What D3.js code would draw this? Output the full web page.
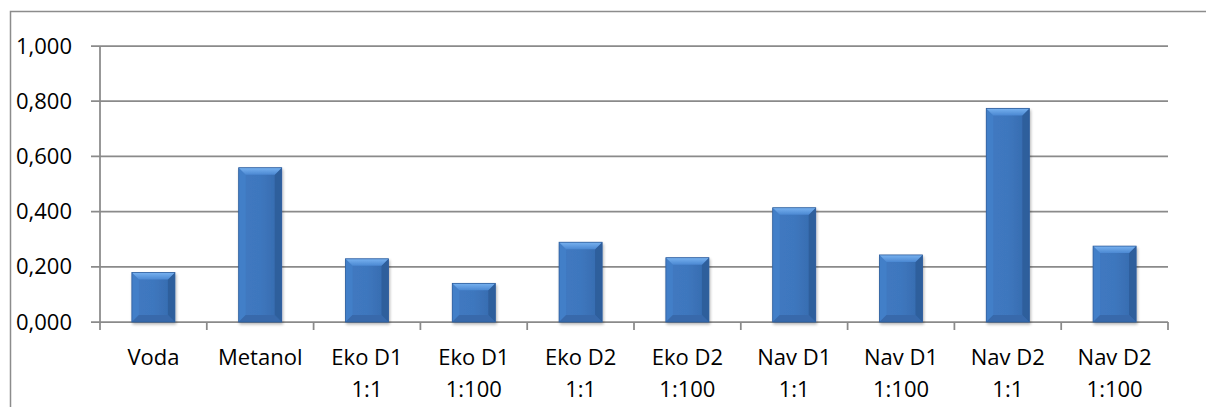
<!DOCTYPE html>
<html>
<head>
<meta charset="utf-8">
<script src="https://cdn.jsdelivr.net/npm/d3@7"></script>
<style>
  body { margin: 0; background: #fff; }
  svg { display: block; }
  text { font-family: "Open Sans", "Noto Sans", sans-serif; font-weight: 400; fill: #000; }
</style>
</head>
<body>
<div id="chart"></div>
<script>
// Data
var categories = ["Voda", "Metanol", "Eko D1\n1:1", "Eko D1\n1:100", "Eko D2\n1:1",
    "Eko D2\n1:100", "Nav D1\n1:1", "Nav D1\n1:100", "Nav D2\n1:1", "Nav D2\n1:100"];
var values = [0.179, 0.559, 0.229, 0.140, 0.289, 0.233, 0.414, 0.243, 0.774, 0.275];
var yTicks = [0, 0.2, 0.4, 0.6, 0.8, 1.0];

function createChart() {
    var width = 1206, height = 407;
    var margin = { top: 46, right: 38, bottom: 85, left: 100 };
    var innerW = width - margin.left - margin.right;
    var innerH = height - margin.top - margin.bottom;

    var svg = d3.select("#chart").append("svg")
        .attr("width", width)
        .attr("height", height);

    var defs = svg.append("defs");

    // face gradient of bars (slightly darker on the right)
    var faceGrad = defs.append("linearGradient").attr("id", "face")
        .attr("x1", "0").attr("x2", "1").attr("y1", "0").attr("y2", "0");
    faceGrad.append("stop").attr("offset", "0%").attr("stop-color", "#4079c1");
    faceGrad.append("stop").attr("offset", "50%").attr("stop-color", "#3e77be");
    faceGrad.append("stop").attr("offset", "100%").attr("stop-color", "#3569ac");

    var topGrad = defs.append("linearGradient").attr("id", "bevelTop")
        .attr("x1", "0").attr("x2", "0").attr("y1", "0").attr("y2", "1");
    topGrad.append("stop").attr("offset", "0%").attr("stop-color", "#78b2f0");
    topGrad.append("stop").attr("offset", "100%").attr("stop-color", "#4b88d2");

    var shadow = defs.append("filter").attr("id", "shadow")
        .attr("x", "-20%").attr("y", "-10%").attr("width", "140%").attr("height", "130%");
    shadow.append("feGaussianBlur").attr("in", "SourceAlpha").attr("stdDeviation", 1.5).attr("result", "b");
    shadow.append("feOffset").attr("in", "b").attr("dx", 1).attr("dy", 1.5).attr("result", "o");
    shadow.append("feComponentTransfer").attr("in", "o").attr("result", "s")
        .append("feFuncA").attr("type", "linear").attr("slope", 0.3);
    var merge = shadow.append("feMerge");
    merge.append("feMergeNode").attr("in", "s");
    merge.append("feMergeNode").attr("in", "SourceGraphic");

    // outer chart border (runs off the right and bottom edges)
    svg.append("rect")
        .attr("x", 10.5).attr("y", 11.5)
        .attr("width", 1220).attr("height", 420)
        .attr("fill", "none")
        .attr("stroke", "#8c8c8c")
        .attr("stroke-width", 1.5);

    var g = svg.append("g")
        .attr("transform", "translate(" + margin.left + "," + margin.top + ")");

    var x = d3.scaleBand()
        .domain(categories)
        .range([0, innerW])
        .paddingInner(0.597)
        .paddingOuter(0.2985);

    var y = d3.scaleLinear()
        .domain([0, 1])
        .range([innerH, 0]);

    // gridlines
    g.append("g").selectAll("line")
        .data(yTicks)
        .enter().append("line")
        .attr("x1", -9).attr("x2", innerW)
        .attr("y1", function (d) { return y(d); })
        .attr("y2", function (d) { return y(d); })
        .attr("stroke", "#8a8a8a")
        .attr("stroke-width", 1.75);

    // y axis labels
    var fmt = function (d) { return d3.format(".3f")(d).replace(".", ","); };
    var yAxis = g.append("g")
        .call(d3.axisLeft(y).tickValues(yTicks).tickFormat(fmt).tickSize(0).tickPadding(28));
    yAxis.select(".domain").remove();
    yAxis.selectAll("text")
        .attr("font-size", 22)
        .attr("font-family", "'Open Sans', 'Noto Sans', sans-serif")
        .attr("fill", "#000");

    // vertical axis line
    g.append("line")
        .attr("x1", 0).attr("x2", 0)
        .attr("y1", 0).attr("y2", innerH + 8)
        .attr("stroke", "#8a8a8a").attr("stroke-width", 1.75);

    // category tick marks
    var step = x.step();
    g.append("g").selectAll("line")
        .data(d3.range(1, categories.length + 1))
        .enter().append("line")
        .attr("x1", function (d) { return d * step; })
        .attr("x2", function (d) { return d * step; })
        .attr("y1", innerH).attr("y2", innerH + 8)
        .attr("stroke", "#8a8a8a").attr("stroke-width", 1.75);

    // bars with bevel
    var bw = x.bandwidth();
    var bev = 7;
    var bars = g.append("g").selectAll("g")
        .data(values)
        .enter().append("g")
        .attr("filter", "url(#shadow)")
        .attr("transform", function (d, i) {
            return "translate(" + x(categories[i]) + "," + y(d) + ")";
        });

    bars.append("rect")
        .attr("width", bw)
        .attr("height", function (d) { return innerH - y(d); })
        .attr("fill", "url(#face)");

    // left bevel
    bars.append("path")
        .attr("d", function (d) {
            var h = innerH - y(d);
            return "M0,0L" + bev + "," + bev + "L" + bev + "," + (h - bev) + "L0," + h + "Z";
        })
        .attr("fill", "#4380c9").attr("opacity", 0.85);

    // right bevel
    bars.append("path")
        .attr("d", function (d) {
            var h = innerH - y(d);
            return "M" + bw + ",0L" + (bw - bev) + "," + bev + "L" + (bw - bev) + "," + (h - bev) + "L" + bw + "," + h + "Z";
        })
        .attr("fill", "#2e5e9c");

    // bottom bevel
    bars.append("path")
        .attr("d", function (d) {
            var h = innerH - y(d);
            return "M0," + h + "L" + bev + "," + (h - bev) + "L" + (bw - bev) + "," + (h - bev) + "L" + bw + "," + h + "Z";
        })
        .attr("fill", "#3769ab");

    // top bevel
    bars.append("path")
        .attr("d", "M0,0L" + bw + ",0L" + (bw - bev) + "," + bev + "L" + bev + "," + bev + "Z")
        .attr("fill", "url(#bevelTop)");

    // dark outline
    bars.append("rect")
        .attr("width", bw)
        .attr("height", function (d) { return innerH - y(d); })
        .attr("fill", "none")
        .attr("stroke", "#2f5f9e")
        .attr("stroke-width", 0.8);

    // category labels (two lines)
    var labels = g.append("g").selectAll("text")
        .data(categories)
        .enter().append("text")
        .attr("text-anchor", "middle")
        .attr("font-size", 22)
        .attr("transform", function (d) {
            return "translate(" + (x(d) + bw / 2) + "," + (innerH + 43) + ")";
        });
    labels.each(function (d) {
        var parts = d.split("\n");
        var t = d3.select(this);
        parts.forEach(function (p, k) {
            t.append("tspan").attr("x", 0).attr("y", k * 32).text(p);
        });
    });
}

createChart();
</script>
</body>
</html>
